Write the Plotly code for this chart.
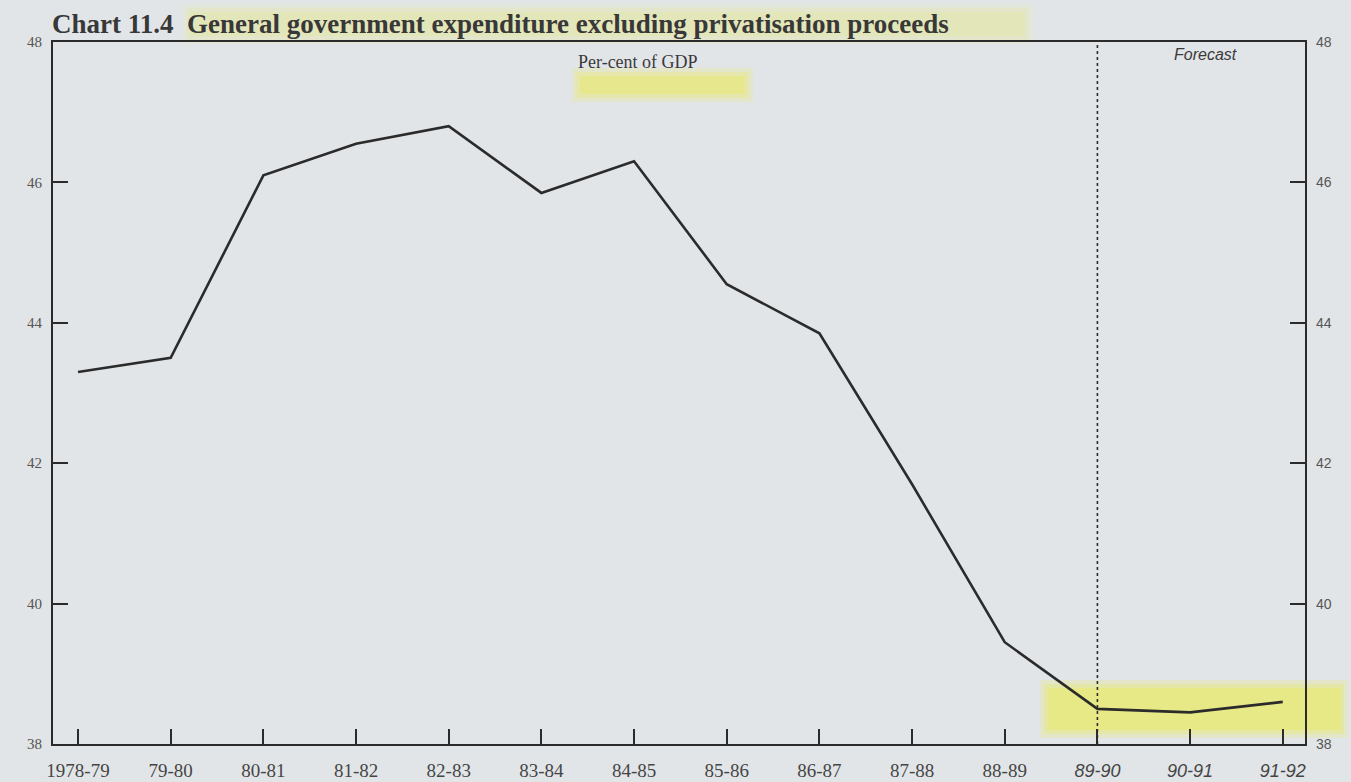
import plotly.graph_objects as go

# Financial years and general government expenditure (% of GDP)
years = ["1978-79", "79-80", "80-81", "81-82", "82-83", "83-84", "84-85",
         "85-86", "86-87", "87-88", "88-89", "89-90", "90-91", "91-92"]
expenditure = [43.3, 43.5, 46.1, 46.55, 46.8, 45.85, 46.3,
               44.55, 43.85, 41.7, 39.45, 38.5, 38.45, 38.6]
forecast_years = ["89-90", "90-91", "91-92"]
y_ticks = [38, 40, 42, 44, 46, 48]

W, H = 1351, 782
L, R, T, B = 53, 46, 42, 38          # margins in px
plot_w, plot_h = W - L - R, H - T - B


def fx(px):
    """page x pixel -> paper fraction"""
    return (px - L) / plot_w


def fy(py):
    """page y pixel -> paper fraction"""
    return (H - B - py) / plot_h


paper = "#e2e5e8"
ink = "#2b2b2b"
serif = "Liberation Serif, Times New Roman, serif"
sans = "Liberation Sans, Arial, sans-serif"

idx = list(range(len(years)))
tick_text = [
    f'<span style="font-family:{sans};font-size:18px"><i>{y}</i></span>' if y in forecast_years else y
    for y in years
]
forecast_start = years.index(forecast_years[0])

fig = go.Figure()
fig.add_trace(go.Scatter(x=idx, y=expenditure, mode="lines",
                         line=dict(color=ink, width=2.6), showlegend=False,
                         hoverinfo="skip"))
fig.add_trace(go.Scatter(x=idx, y=expenditure, mode="lines", yaxis="y2",
                         line=dict(width=0), opacity=0, showlegend=False,
                         hoverinfo="skip"))

# forecast divider
fig.add_shape(type="line", xref="x", yref="paper", x0=forecast_start, x1=forecast_start,
              y0=0, y1=1, line=dict(color=ink, width=1.6, dash="dot"))


# highlighter marks, soft-edged by stacking translucent layers
def highlight(x0, x1, y0, y1, alpha):
    for grow, a in ((8, alpha * 0.35), (4, alpha * 0.45), (0, alpha * 0.6)):
        fig.add_shape(type="rect", xref="paper", yref="paper",
                      x0=fx(x0 - grow), x1=fx(x1 + grow),
                      y0=fy(y1 + grow), y1=fy(y0 - grow),
                      fillcolor=f"rgba(236,236,70,{a:.3f})", line_width=0, layer="below")


highlight(190, 1025, 12, 36, 0.22)
highlight(580, 745, 76, 94, 0.5)
highlight(1048, 1340, 688, 730, 0.55)

fig.add_annotation(text="Chart 11.4  General government expenditure excluding privatisation proceeds",
                   xref="paper", yref="paper", x=fx(50), y=fy(24), xanchor="left", yanchor="middle",
                   showarrow=False,
                   font=dict(family=serif, size=27, color="#383838", weight="bold"))
fig.add_annotation(text="Per-cent of GDP", xref="paper", yref="paper", x=fx(638), y=fy(62),
                   xanchor="center", yanchor="middle", showarrow=False,
                   font=dict(family=serif, size=18, color="#3a3a3a"))
fig.add_annotation(text="<i>Forecast</i>", xref="paper", yref="paper", x=fx(1205), y=fy(54),
                   xanchor="center", yanchor="middle", showarrow=False,
                   font=dict(family=sans, size=16, color="#3a3a3a"))

fig.update_layout(
    width=W, height=H,
    margin=dict(l=L, r=R, t=T, b=B),
    paper_bgcolor=paper, plot_bgcolor=paper,
    xaxis=dict(range=[-0.27, 13.24], tickmode="array", tickvals=idx, ticktext=tick_text,
               ticks="inside", ticklen=15, tickwidth=1.6, tickcolor=ink,
               showline=True, linecolor=ink, linewidth=2.2, mirror=True,
               showgrid=False, zeroline=False, ticklabelstandoff=8, automargin=False,
               tickfont=dict(family=serif, size=19, color="#454545")),
    yaxis=dict(range=[38, 48], tickmode="array", tickvals=y_ticks,
               ticks="inside", ticklen=15, tickwidth=1.6, tickcolor=ink,
               showline=True, linecolor=ink, linewidth=2.2, automargin=False,
               showgrid=False, zeroline=False, ticklabelstandoff=6,
               tickfont=dict(family=serif, size=15, color="#555555")),
    yaxis2=dict(range=[38, 48], overlaying="y", side="right", tickmode="array",
                tickvals=y_ticks, ticks="inside", ticklen=15, tickwidth=1.6, tickcolor=ink,
                showline=True, linecolor=ink, linewidth=2.2, automargin=False,
                showgrid=False, zeroline=False, ticklabelstandoff=6,
                tickfont=dict(family=sans, size=14, color="#555555")),
)

fig.write_html("out.html")
